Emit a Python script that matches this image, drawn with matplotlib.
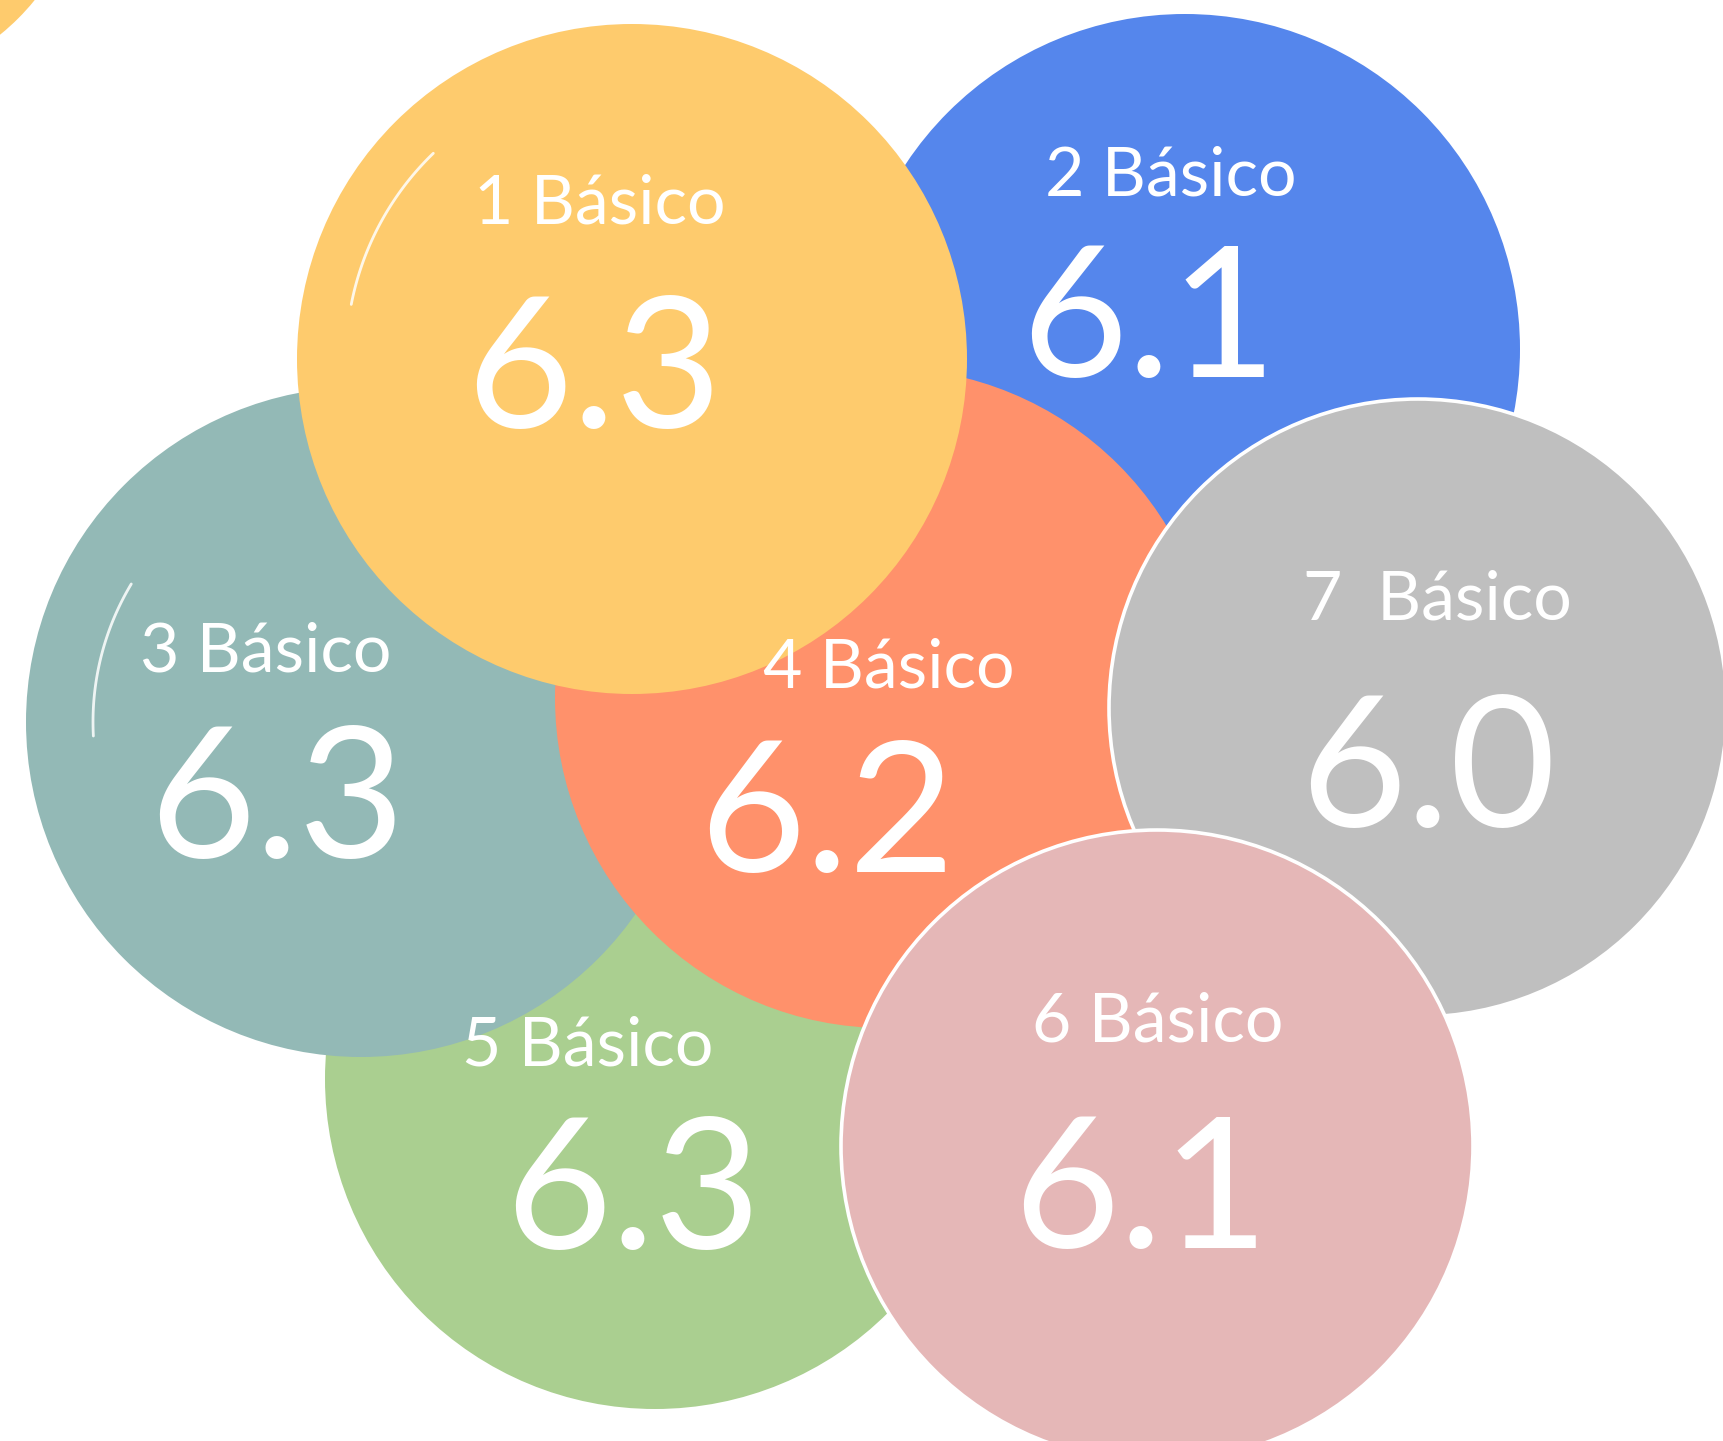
import numpy as np
import matplotlib.pyplot as plt
from matplotlib.patches import Circle

plt.rcParams['font.family'] = ['Lato', 'DejaVu Sans']

# datos: promedio por curso
cursos = ['1 Básico', '2 Básico', '3 Básico', '4 Básico', '5 Básico', '6 Básico', '7  Básico']
notas = [6.3, 6.1, 6.3, 6.2, 6.3, 6.1, 6.0]
colores = ['#FECB6D', '#5586EC', '#93B9B6', '#FF916B', '#AACF90', '#E5B7B7', '#BFBFBF']

# layout (pixeles, eje y hacia abajo)
centros = [(632, 359), (1185, 349), (361, 722), (885, 698), (655, 1079), (1157, 1146), (1418, 708)]
radios = [335, 335, 335, 330, 330, 316, 309]
pos_curso = [(600, 223), (1171, 196), (266, 672), (889, 687), (588, 1066), (1158, 1042), (1437, 620)]
pos_nota = [(594, 428), (1149, 377), (277, 858), (827, 872), (633, 1249), (1141, 1248), (1428, 827)]
orden = [1, 4, 2, 3, 0, 6, 5]   # de atras hacia adelante
con_borde = [6, 5]

W, H = 1723, 1441
fig = plt.figure(figsize=(W / 100, H / 100), dpi=100)
ax = fig.add_axes([0, 0, 1, 1])
ax.set_xlim(0, W)
ax.set_ylim(H, 0)
ax.axis('off')

# pedacito amarillo en la esquina
ax.add_patch(Circle((-150, -150), 238, color='#FECB6D', lw=0, zorder=1))

z = 2
for i in orden:
    if i in con_borde:
        c = Circle(centros[i], radios[i], facecolor=colores[i], edgecolor='white', lw=2.6, zorder=z)
    else:
        c = Circle(centros[i], radios[i], facecolor=colores[i], lw=0, zorder=z)
    ax.add_patch(c)
    z += 1

# textos encima de todo
for i in range(len(cursos)):
    ax.text(pos_curso[i][0], pos_curso[i][1], cursos[i], color='white', fontsize=49,
            ha='center', va='baseline', zorder=20)
    ax.text(pos_nota[i][0], pos_nota[i][1], f'{notas[i]:.1f}', color='white', fontsize=132,
            ha='center', va='baseline', zorder=20)

# brillos
def brillo(cx, cy, r, a0, a1, zz):
    t = np.radians(np.linspace(a0, a1, 60))
    ax.plot(cx + r * np.cos(t), cy + r * np.sin(t), color='white', lw=2.0, alpha=0.85,
            solid_capstyle='round', zorder=zz)

brillo(632, 359, 286, 191, 226, 7)
brillo(361, 722, 268, 177, 211, 5)

fig.savefig('out.png', dpi=100)
